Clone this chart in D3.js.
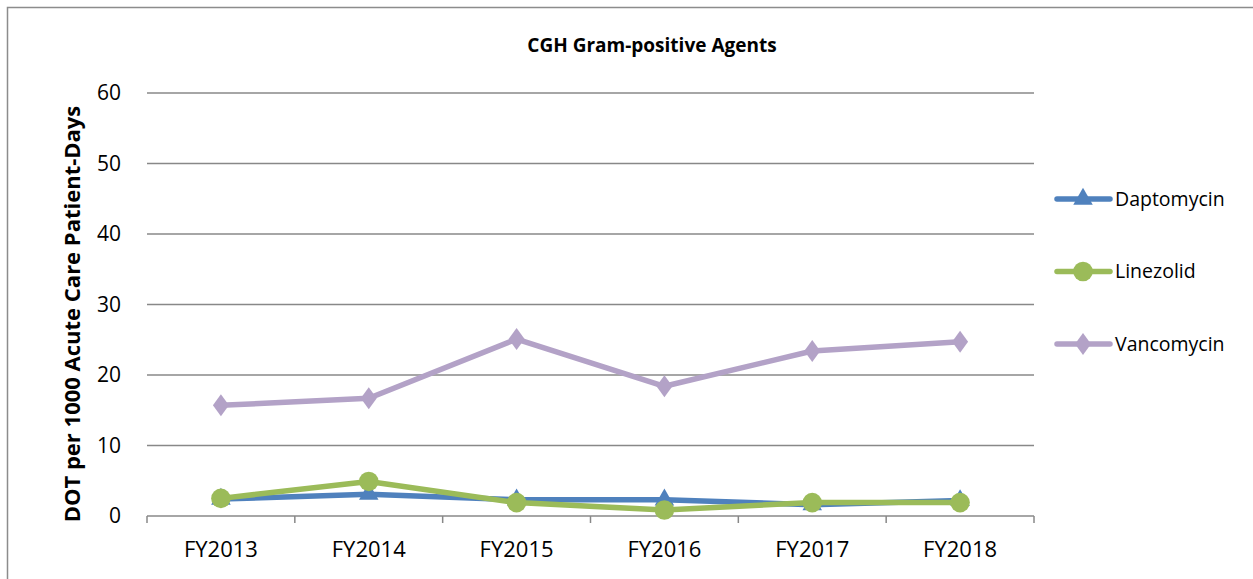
<!DOCTYPE html>
<html>
<head>
<meta charset="utf-8">
<script src="https://cdn.jsdelivr.net/npm/d3@7"></script>
<style>
  body { margin: 0; background: #fff; }
  text { font-family: "Open Sans", "Noto Sans", sans-serif; fill: #000; }
</style>
</head>
<body>
<div id="chart"></div>
<script>
const width = 1253;
const height = 579;

const years = ["FY2013", "FY2014", "FY2015", "FY2016", "FY2017", "FY2018"];
const daptomycin = [2.4, 3.1, 2.3, 2.3, 1.6, 2.2];
const linezolid = [2.5, 4.9, 1.9, 0.85, 1.9, 1.9];
const vancomycin = [15.7, 16.7, 25.1, 18.4, 23.4, 24.7];
const yTicks = [0, 10, 20, 30, 40, 50, 60];

const series = [
  { name: "Daptomycin", values: daptomycin, color: "#4f81bd", marker: "triangle" },
  { name: "Linezolid", values: linezolid, color: "#9bbb59", marker: "circle" },
  { name: "Vancomycin", values: vancomycin, color: "#b3a2c7", marker: "diamond" }
];

const plot = { left: 147, right: 1034, top: 93, bottom: 516 };

const svg = d3.select("#chart")
  .append("svg")
  .attr("width", width)
  .attr("height", height);

// chart border
svg.append("rect")
  .attr("x", 7.5)
  .attr("y", 7.5)
  .attr("width", width + 20)
  .attr("height", height + 20)
  .attr("fill", "none")
  .attr("stroke", "#8c8c8c")
  .attr("stroke-width", 1.5);

const x = d3.scaleBand()
  .domain(years)
  .range([plot.left, plot.right]);

const y = d3.scaleLinear()
  .domain([0, 60])
  .range([plot.bottom, plot.top]);

// gridlines
svg.append("g")
  .selectAll("line")
  .data(yTicks.filter(d => d > 0))
  .enter().append("line")
  .attr("x1", plot.left)
  .attr("x2", plot.right)
  .attr("y1", d => y(d))
  .attr("y2", d => y(d))
  .attr("stroke", "#888")
  .attr("stroke-width", 1.5);

// y tick labels
svg.append("g")
  .selectAll("text")
  .data(yTicks)
  .enter().append("text")
  .attr("x", 121)
  .attr("y", d => y(d))
  .attr("dy", "0.35em")
  .attr("text-anchor", "end")
  .style("font-size", "21px")
  .text(d => d);

// x axis
const xAxis = d3.axisBottom(x)
  .tickSize(0)
  .tickPadding(25);

const gx = svg.append("g")
  .attr("transform", `translate(0,${plot.bottom})`)
  .call(xAxis);
gx.select(".domain").remove();
gx.selectAll("text")
  .style("font-size", "22px")
  .style("font-family", "'Open Sans', sans-serif");

svg.append("line")
  .attr("x1", plot.left)
  .attr("x2", plot.right)
  .attr("y1", plot.bottom)
  .attr("y2", plot.bottom)
  .attr("stroke", "#888")
  .attr("stroke-width", 1.5);

const boundaries = years.map(d => x(d)).concat([plot.right]);
svg.append("g")
  .selectAll("line")
  .data(boundaries)
  .enter().append("line")
  .attr("x1", d => d)
  .attr("x2", d => d)
  .attr("y1", plot.bottom)
  .attr("y2", plot.bottom + 7)
  .attr("stroke", "#888")
  .attr("stroke-width", 1.5);

// title
svg.append("text")
  .attr("x", 652)
  .attr("y", 52)
  .attr("text-anchor", "middle")
  .style("font-size", "19px")
  .style("font-weight", "bold")
  .text("CGH Gram-positive Agents");

// y axis title
svg.append("text")
  .attr("transform", "translate(80,314) rotate(-90)")
  .attr("text-anchor", "middle")
  .style("font-size", "22px")
  .style("font-weight", "bold")
  .text("DOT per 1000 Acute Care Patient-Days");

function markerPath(type) {
  if (type === "triangle") return d3.symbol().type(d3.symbolTriangle).size(165)();
  if (type === "circle") return d3.symbol().type(d3.symbolCircle).size(300)();
  return "M0,-11L8,0L0,11L-8,0Z";
}

const line = d3.line()
  .x((d, i) => x(years[i]) + x.bandwidth() / 2)
  .y(d => y(d));

series.forEach(s => {
  const g = svg.append("g");
  g.append("path")
    .datum(s.values)
    .attr("d", line)
    .attr("fill", "none")
    .attr("stroke", s.color)
    .attr("stroke-width", 5.5)
    .attr("stroke-linejoin", "round");
  g.selectAll("path.mark")
    .data(s.values)
    .enter().append("path")
    .attr("class", "mark")
    .attr("d", markerPath(s.marker))
    .attr("transform", (d, i) => `translate(${x(years[i]) + x.bandwidth() / 2},${y(d)})`)
    .attr("fill", s.color);
});

// legend
const legend = svg.append("g");
series.forEach((s, i) => {
  const ly = 199 + i * 72.5;
  legend.append("line")
    .attr("x1", 1057)
    .attr("x2", 1110)
    .attr("y1", ly)
    .attr("y2", ly)
    .attr("stroke", s.color)
    .attr("stroke-width", 5.5)
    .attr("stroke-linecap", "round");
  legend.append("path")
    .attr("d", markerPath(s.marker))
    .attr("transform", `translate(1083,${ly})`)
    .attr("fill", s.color);
  legend.append("text")
    .attr("x", 1115)
    .attr("y", ly)
    .attr("dy", "0.35em")
    .style("font-size", "19.5px")
    .text(s.name);
});
</script>
</body>
</html>
